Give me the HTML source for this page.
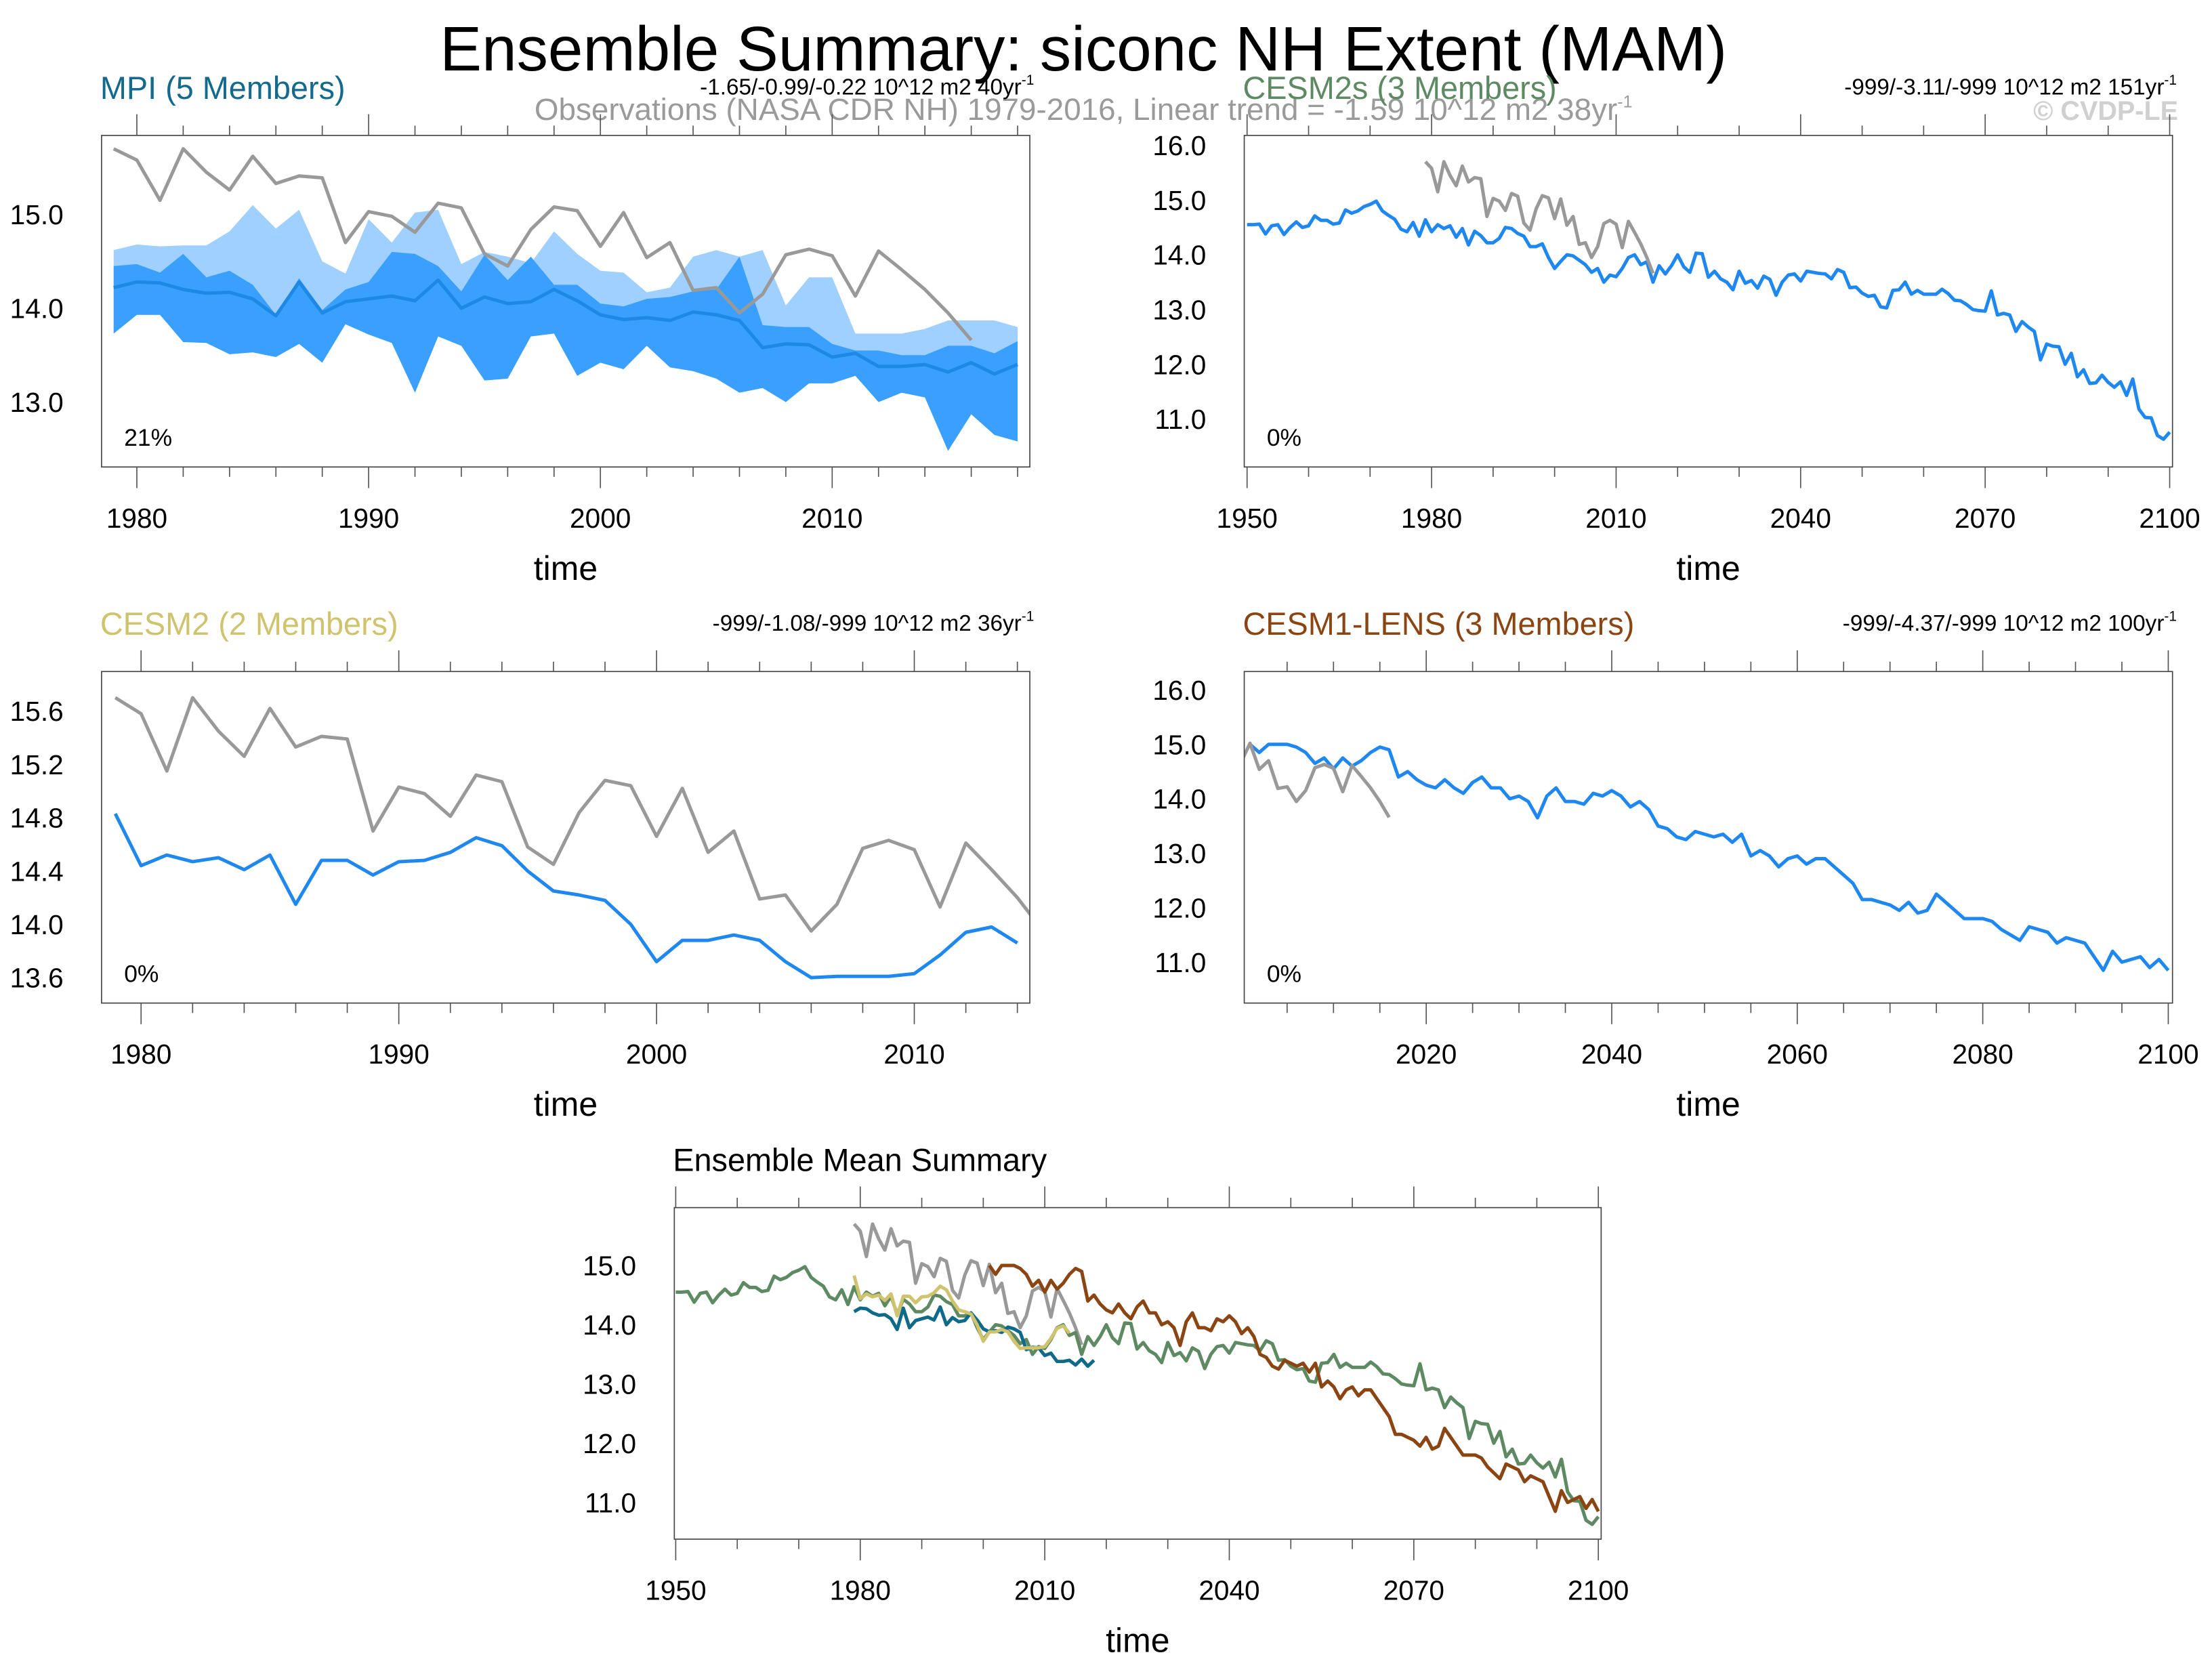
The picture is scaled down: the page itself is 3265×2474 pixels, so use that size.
<!DOCTYPE html>
<html><head><meta charset="utf-8">
<style>html,body{margin:0;padding:0;background:#fff}svg{display:block}text{font-family:"Liberation Sans",sans-serif}</style>
</head><body>
<svg id="root" xmlns="http://www.w3.org/2000/svg" width="3265" height="2474" viewBox="0 0 1568 1188" preserveAspectRatio="none">
<rect width="1568" height="1188" fill="#fff"/>
<text x="768" y="50" font-size="44.5" text-anchor="middle">Ensemble Summary: siconc NH Extent (MAM)</text>
<text x="768" y="85" font-size="22" text-anchor="middle" fill="#9a9a9a">Observations (NASA CDR NH) 1979-2016, Linear trend = -1.59 10^12 m2 38yr<tspan font-size="12" dy="-9">-1</tspan></text>
<text x="1544" y="85" font-size="19" font-weight="bold" text-anchor="end" fill="#d0d0d0">© CVDP-LE</text>
</svg>
<script>
// ---------- data ----------
const obsYears0 = 1979;
const obsValues = [15.7,15.58,15.15,15.7,15.45,15.26,15.62,15.33,15.41,15.39,14.7,15.03,14.98,14.81,15.12,15.07,14.58,14.45,14.84,15.08,15.04,14.66,15.02,14.54,14.70,14.19,14.22,13.95,14.15,14.57,14.63,14.56,14.13,14.61,14.41,14.2,13.95,13.66];
const mpiStart = 1979;
const mpiMean = [14.22,14.28,14.27,14.2,14.16,14.17,14.1,13.92,14.28,13.95,14.07,14.1,14.13,14.08,14.3,14.0,14.12,14.05,14.07,14.2,14.08,13.93,13.88,13.9,13.87,13.96,13.93,13.87,13.58,13.62,13.61,13.48,13.52,13.38,13.38,13.4,13.32,13.42,13.3,13.4];
const mpiOuterUpper = [14.62,14.68,14.66,14.67,14.67,14.82,15.1,14.85,15.05,14.5,14.37,14.95,14.7,15.02,15.05,14.47,14.6,14.55,14.48,14.82,14.58,14.4,14.38,14.17,14.22,14.55,14.62,14.55,14.62,14.03,14.33,14.33,13.73,13.73,13.73,13.78,13.87,13.87,13.87,13.8];
const mpiInnerUpper = [14.45,14.47,14.38,14.58,14.33,14.4,14.25,13.93,14.32,13.98,14.2,14.28,14.6,14.58,14.45,14.18,14.57,14.3,14.55,14.25,14.25,14.05,14.02,14.1,14.12,14.18,14.2,14.55,13.82,13.8,13.8,13.62,13.55,13.55,13.5,13.5,13.6,13.6,13.52,13.65];
const mpiLower = [13.73,13.93,13.93,13.64,13.63,13.51,13.53,13.48,13.62,13.42,13.83,13.72,13.63,13.1,13.7,13.6,13.23,13.25,13.7,13.73,13.28,13.42,13.35,13.6,13.37,13.33,13.25,13.1,13.15,13.0,13.2,13.2,13.28,13.0,13.1,13.05,12.48,12.87,12.65,12.58];
const cesm2sStart = 1950;
const cesm2sValues = [14.55,14.55,14.56,14.38,14.53,14.55,14.37,14.5,14.6,14.5,
14.53,14.71,14.63,14.63,14.56,14.58,14.82,14.76,14.8,14.88,
14.92,14.98,14.8,14.72,14.65,14.47,14.42,14.59,14.34,14.64,
14.42,14.55,14.48,14.53,14.32,14.48,14.18,14.43,14.35,14.22,
14.22,14.3,14.5,14.48,14.39,14.34,14.15,14.15,14.2,13.95,
13.75,13.88,14.0,13.98,13.9,13.82,13.68,13.75,13.5,13.63,
13.6,13.75,13.95,14.0,13.82,13.87,13.5,13.8,13.65,13.8,
14.0,13.78,13.68,14.03,14.02,13.59,13.7,13.56,13.5,13.36,
13.7,13.48,13.53,13.39,13.61,13.55,13.26,13.5,13.63,13.65,
13.52,13.7,13.68,13.66,13.65,13.56,13.73,13.68,13.4,13.41,
13.3,13.24,13.26,13.05,13.03,13.35,13.36,13.5,13.28,13.35,
13.28,13.28,13.28,13.37,13.29,13.17,13.16,13.09,13.0,12.98,
12.97,13.34,12.9,12.93,12.9,12.6,12.78,12.68,12.6,12.08,
12.37,12.33,12.32,12.0,12.2,11.77,11.9,11.65,11.66,11.8,
11.67,11.58,11.68,11.43,11.73,11.18,11.03,11.02,10.7,10.63,10.76];
const cesm2Start = 1979;
const cesm2Values = [14.83,14.44,14.52,14.47,14.5,14.41,14.52,14.15,14.48,14.48,14.37,14.47,14.48,14.54,14.65,14.59,14.4,14.25,14.22,14.18,14.0,13.72,13.88,13.88,13.92,13.88,13.72,13.6,13.61,13.61,13.61,13.63,13.77,13.94,13.98,13.86];
const lensStart = 2001;
const lensValues = [15.0,14.85,15.0,15.0,15.0,14.95,14.85,14.65,14.75,14.55,
14.75,14.6,14.7,14.85,14.95,14.9,14.4,14.5,14.35,14.25,
14.2,14.35,14.2,14.1,14.3,14.4,14.2,14.2,14.0,14.05,
13.95,13.65,14.05,14.2,13.95,13.95,13.9,14.1,14.05,14.15,
14.05,13.85,13.95,13.8,13.5,13.45,13.3,13.25,13.4,13.35,
13.3,13.35,13.2,13.35,12.95,13.05,12.95,12.75,12.9,12.95,
12.8,12.9,12.9,12.75,12.6,12.45,12.15,12.15,12.1,12.05,
11.95,12.1,11.9,11.95,12.25,12.1,11.95,11.8,11.8,11.8,
11.75,11.6,11.5,11.4,11.65,11.6,11.55,11.35,11.45,11.4,
11.35,11.1,10.85,11.2,11.0,11.05,11.1,10.9,11.05,10.85];
const p1XTicks = [1980,1990,2000,2010]; const p1YTicks = ["13.0","14.0","15.0"];
const p2XTicks = [1950,1980,2010,2040,2070,2100]; const p2YTicks = ["11.0","12.0","13.0","14.0","15.0","16.0"];
const p3XTicks = [1980,1990,2000,2010]; const p3YTicks = ["13.6","14.0","14.4","14.8","15.2","15.6"];
const p4XTicks = [2020,2040,2060,2080,2100]; const p4YTicks = ["11.0","12.0","13.0","14.0","15.0","16.0"];

// ---------- drawing ----------
const NS="http://www.w3.org/2000/svg";
const root=document.getElementById('root');
function mk(tag,parent){const e=document.createElementNS(NS,tag);parent.appendChild(e);return e;}
function series(start,vals){return vals.map((v,i)=>[start+i,v]);}

function panel(cfg){
  const g=mk('g',root);
  
  
  const X=y=>cfg.l+(y-cfg.x0)/(cfg.x1-cfg.x0)*(cfg.r-cfg.l);
  const Y=v=>cfg.vy0+(v-cfg.v0)/(cfg.v1-cfg.v0)*(cfg.vy1-cfg.vy0);
  const clip=mk('clipPath',g); clip.setAttribute('id',cfg.name+'-clip');
  const cr=mk('rect',clip); cr.setAttribute('x',cfg.l);cr.setAttribute('y',cfg.t);cr.setAttribute('width',cfg.r-cfg.l);cr.setAttribute('height',cfg.b-cfg.t);
  const plot=mk('g',g); plot.setAttribute('clip-path','url(#'+cfg.name+'-clip)');
  
  
  (cfg.bands||[]).forEach(bd=>{
    const p=mk('path',plot);
    
    
    let d='';
    bd.up.forEach((v,i)=>{d+=(i?'L':'M')+X(bd.start+i).toFixed(2)+','+Y(v).toFixed(2);});
    for(let i=bd.lo.length-1;i>=0;i--) d+='L'+X(bd.start+i).toFixed(2)+','+Y(bd.lo[i]).toFixed(2);
    p.setAttribute('d',d+'Z');p.setAttribute('fill',bd.color);
  });
  cfg.lines.forEach(ln=>{
    const p=mk('polyline',plot);
    
    
    p.setAttribute('points',ln.pts.map(q=>X(q[0]).toFixed(2)+','+Y(q[1]).toFixed(2)).join(' '));
    p.setAttribute('fill','none');p.setAttribute('stroke',ln.color);p.setAttribute('stroke-width',ln.w||2.4);p.setAttribute('stroke-linejoin','round');
  });
  const fr=mk('rect',g);
  
  
  fr.setAttribute('x',cfg.l);fr.setAttribute('y',cfg.t);fr.setAttribute('width',cfg.r-cfg.l);fr.setAttribute('height',cfg.b-cfg.t);
  fr.setAttribute('fill','none');fr.setAttribute('stroke','#444');fr.setAttribute('stroke-width',0.8);
  const tk=mk('path',g); let d='';
  for(let yr=Math.ceil(cfg.x0/cfg.xm)*cfg.xm;yr<=cfg.x1+1e-6;yr+=cfg.xm){const x=X(yr);const L=(Math.abs(yr/cfg.xM-Math.round(yr/cfg.xM))<1e-6)?15:7;d+=`M${x},${cfg.t}v${-L}M${x},${cfg.b}v${L}`;}
  for(let v=Math.ceil(cfg.v0/cfg.vm-1e-6)*cfg.vm;v<=cfg.v1+1e-6;v+=cfg.vm){const y=Y(v);if(y<cfg.t-0.5||y>cfg.b+0.5)continue;const isM=Math.abs(v/cfg.vM-Math.round(v/cfg.vM))<1e-6;const L=isM?15:7;d+=`M${cfg.l},${y}h${-L}M${cfg.r},${y}h${L}`;}
  tk.setAttribute('d',d);tk.setAttribute('stroke','#555');tk.setAttribute('stroke-width',0.8);
  
  
  cfg.xt.forEach(yr=>{const t=mk('text',g);
    
    
    t.setAttribute('x',X(yr));t.setAttribute('y',cfg.b+43);t.setAttribute('font-size',19.5);t.setAttribute('text-anchor','middle');t.textContent=yr;});
  cfg.yt.forEach(s=>{const t=mk('text',g);
    
    
    t.setAttribute('x',cfg.l-27);t.setAttribute('y',Y(parseFloat(s))+7);t.setAttribute('font-size',19.5);t.setAttribute('text-anchor','end');t.textContent=s;});
  const xt=mk('text',g);
  
  
  xt.setAttribute('x',(cfg.l+cfg.r)/2);xt.setAttribute('y',cfg.b+80);xt.setAttribute('font-size',24);xt.setAttribute('text-anchor','middle');xt.textContent='time';
  const tt=mk('text',g);
  
  
  tt.setAttribute('x',cfg.l-1);tt.setAttribute('y',cfg.t-26);tt.setAttribute('font-size',22.5);tt.setAttribute('fill',cfg.tcolor);tt.textContent=cfg.title;
  if(cfg.stats){const st=mk('text',g);
    
    
    st.setAttribute('x',cfg.r+3);st.setAttribute('y',cfg.t-29);st.setAttribute('font-size',16);st.setAttribute('text-anchor','end');
    st.innerHTML=cfg.stats+'<tspan font-size="10" dy="-7">-1</tspan>';}
  if(cfg.pct){const pc=mk('text',g);
    
    
    pc.setAttribute('x',cfg.l+16);pc.setAttribute('y',cfg.b-15);pc.setAttribute('font-size',17);pc.textContent=cfg.pct;}
}
const BLUE='#1e88f0', GRAY='#999999';
panel({name:'mpi-panel',l:72,r:730,t:96,b:331,x0:1980-25/16.43,x1:1980+633/16.43,xm:2,xM:10,v0:15,v1:13,vy0:152,vy1:285,vm:0.2,vM:1,
  xt:p1XTicks,yt:p1YTicks,title:'MPI (5 Members)',tcolor:'#146a8c',stats:'-1.65/-0.99/-0.22 10^12 m2 40yr',pct:'21%',
  bands:[{name:'mpi-outer-range',start:mpiStart,up:mpiOuterUpper,lo:mpiLower,color:'#a0d0ff'},{name:'mpi-inner-range',start:mpiStart,up:mpiInnerUpper,lo:mpiLower,color:'#3aa0ff'}],
  lines:[{name:'mpi-ensemble-mean',pts:series(mpiStart,mpiMean),color:'#1e88e5'},{name:'observations-line',pts:series(obsYears0,obsValues),color:GRAY}]});
panel({name:'cesm2s-panel',l:882,r:1540,t:96,b:331,x0:1950-2/4.36,x1:1950+656/4.36,xm:10,xM:30,v0:16,v1:11,vy0:103,vy1:297,vm:0.2,vM:1,
  xt:p2XTicks,yt:p2YTicks,title:'CESM2s (3 Members)',tcolor:'#5e8a63',stats:'-999/-3.11/-999 10^12 m2 151yr',pct:'0%',
  lines:[{name:'cesm2s-ensemble-mean',pts:series(cesm2sStart,cesm2sValues),color:BLUE},{name:'observations-line',pts:series(obsYears0,obsValues),color:GRAY}]});
panel({name:'cesm2-panel',l:72,r:730,t:476,b:711,x0:1980-28/18.27,x1:1980+630/18.27,xm:2,xM:10,v0:15.6,v1:13.6,vy0:504,vy1:693,vm:0.1,vM:0.4,
  xt:p3XTicks,yt:p3YTicks,title:'CESM2 (2 Members)',tcolor:'#cfc36e',stats:'-999/-1.08/-999 10^12 m2 36yr',pct:'0%',
  lines:[{name:'cesm2-ensemble-mean',pts:series(cesm2Start,cesm2Values),color:BLUE},{name:'observations-line',pts:series(obsYears0,obsValues),color:GRAY}]});
panel({name:'cesm1-lens-panel',l:882,r:1540,t:476,b:711,x0:2020-129/6.575,x1:2020+529/6.575,xm:5,xM:20,v0:16,v1:11,vy0:489,vy1:682,vm:0.2,vM:1,
  xt:p4XTicks,yt:p4YTicks,title:'CESM1-LENS (3 Members)',tcolor:'#8b4513',stats:'-999/-4.37/-999 10^12 m2 100yr',pct:'0%',
  lines:[{name:'cesm1-lens-ensemble-mean',pts:series(lensStart,lensValues),color:BLUE},{name:'observations-line',pts:series(obsYears0,obsValues),color:GRAY}]});
panel({name:'ensemble-mean-summary-panel',l:478,r:1135,t:856,b:1091,x0:1950-1/4.36,x1:1950+656/4.36,xm:10,xM:30,v0:15,v1:11,vy0:897,vy1:1065,vm:0.2,vM:1,
  xt:p2XTicks,yt:p4YTicks.slice(0,5),title:'Ensemble Mean Summary',tcolor:'#000',
  lines:[{name:'observations-line',pts:series(obsYears0,obsValues),color:GRAY},
    {name:'cesm2s-mean-line',pts:series(cesm2sStart,cesm2sValues),color:'#5e8a63'},
    {name:'cesm1-lens-mean-line',pts:series(lensStart,lensValues),color:'#8b4513'},
    {name:'mpi-mean-line',pts:series(mpiStart,mpiMean),color:'#0f6a8a'},
    {name:'cesm2-mean-line',pts:series(cesm2Start,cesm2Values),color:'#cfc36e'}]});
</script>
</body></html>
